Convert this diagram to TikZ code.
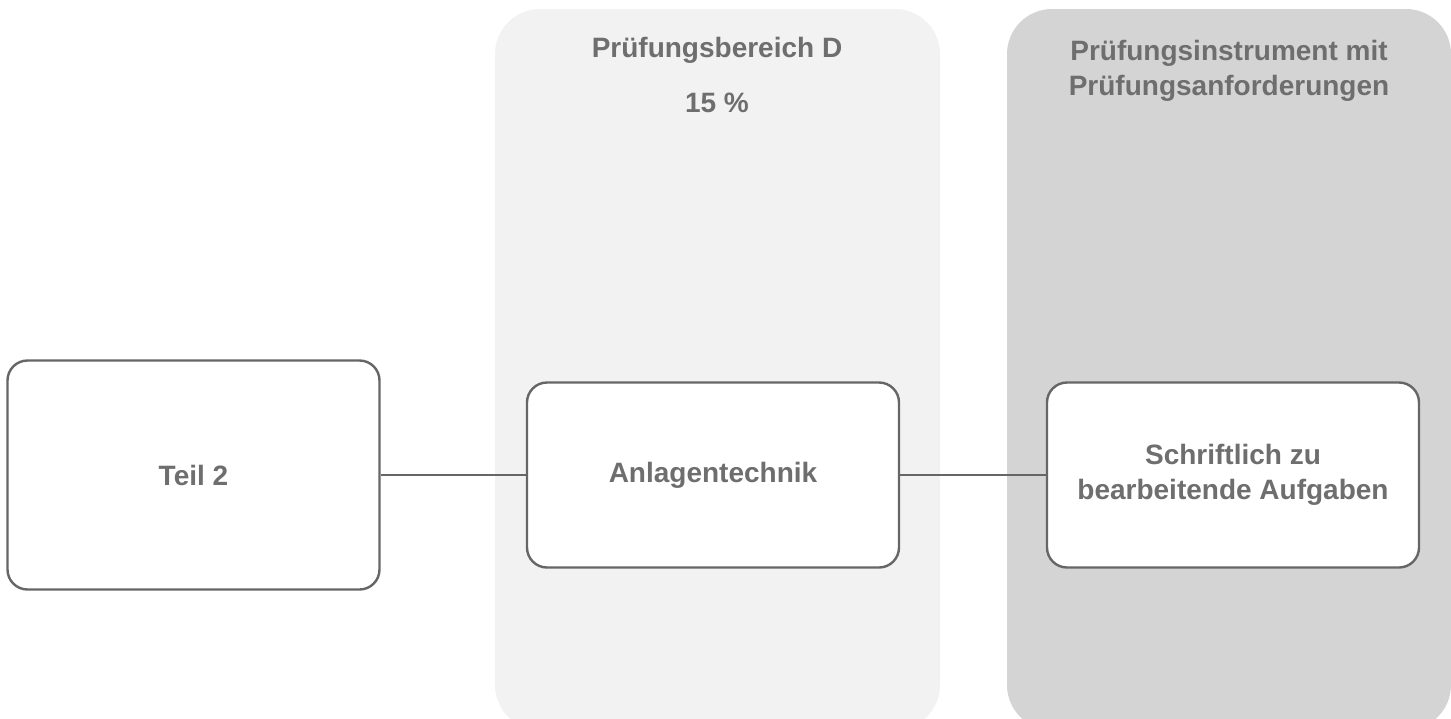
\documentclass[tikz,border=0pt]{standalone}
\usepackage{fontspec}
\setmainfont{Liberation Sans}
\usetikzlibrary{positioning}

\definecolor{lightpanel}{HTML}{F2F2F2}
\definecolor{darkpanel}{HTML}{D4D4D4}
\definecolor{textgray}{HTML}{6E6E6E}
\definecolor{linegray}{HTML}{666666}

\begin{document}
\begin{tikzpicture}[x=0.5pt,y=-0.5pt,font=\bfseries\fontsize{14}{17.5}\selectfont,text=textgray,
		stepbox/.style={draw=linegray,line width=1.2pt,fill=white,rounded corners=10pt,
			minimum width=186pt,minimum height=92.5pt,align=center,inner sep=0pt},
		link/.style={draw=linegray,line width=1.2pt}]
	\useasboundingbox (0,0) rectangle (1451,718);
	% panels
	\fill[lightpanel,rounded corners=22.5pt] (495,9) rectangle (940,730);
	\fill[darkpanel,rounded corners=22.5pt] (1007,9) rectangle (1451,730);
	\node[align=center] (bereich) at (717,50) {Prüfungsbereich D};
	\node[align=center] (anteil) at (717,103) {15 \%};
	\node[align=center] (instrument) at (1229,71) {Prüfungsinstrument mit\\Prüfungsanforderungen};
	% boxes
	\node[stepbox,minimum height=114.5pt] (teil) at (193.5,475) {Teil 2};
	\node[stepbox] (anlage) at (713,475) {Anlagentechnik};
	\node[stepbox] (aufgabe) at (1233,475) {Schriftlich zu\\bearbeitende Aufgaben};
	\foreach \from/\to in {teil/anlage, anlage/aufgabe} {
		\draw[link] (\from) -- (\to);
	}
\end{tikzpicture}
\end{document}
